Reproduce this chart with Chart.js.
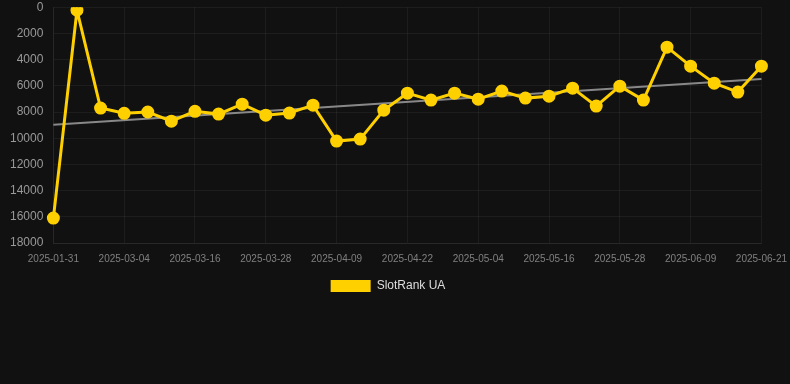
<!DOCTYPE html>
<html>
<head>
<meta charset="utf-8">
<script src="https://cdn.jsdelivr.net/npm/chart.js@4"></script>
<style>
  html, body { margin: 0; padding: 0; background: #111111; }
  #wrap { width: 790px; height: 302px; position: relative; }
</style>
</head>
<body>
<div id="wrap"><canvas id="rankChart"></canvas></div>
<script>
'use strict';
// dates (only every 3rd one is shown on the axis)
let dates = ['2025-01-31','2025-02-12','2025-02-24','2025-03-04','2025-03-08','2025-03-12',
  '2025-03-16','2025-03-20','2025-03-24','2025-03-28','2025-04-01','2025-04-05',
  '2025-04-09','2025-04-13','2025-04-18','2025-04-22','2025-04-26','2025-04-30',
  '2025-05-04','2025-05-08','2025-05-12','2025-05-16','2025-05-20','2025-05-24',
  '2025-05-28','2025-06-01','2025-06-05','2025-06-09','2025-06-13','2025-06-17','2025-06-21'];
let rankValues = [16100, 230, 7700, 8100, 8000, 8700, 7950, 8160, 7400, 8240, 8080, 7480,
  10220, 10070, 7860, 6560, 7090, 6560, 7020, 6400, 6940, 6790, 6180, 7550,
  6030, 7090, 3050, 4500, 5800, 6480, 4500];
// trend line, only the two end points
let trendStart = 8980;
let trendEnd = 5490;
let yTicks = [0, 2000, 4000, 6000, 8000, 10000, 12000, 14000, 16000, 18000];

let trendData = dates.map(function (d, i) {
  if (i === 0) return trendStart;
  if (i === dates.length - 1) return trendEnd;
  return null;
});

let gridColor = 'rgba(255,255,255,0.05)';
Chart.defaults.font.family = '"Liberation Sans", Arial, Helvetica, sans-serif';

// nudge the legend item a bit to the left, like the original
let legendShift = {
  id: 'legendShift',
  afterLayout: function (ch) {
    if (ch.legend && ch.legend.lineWidths) ch.legend.lineWidths[0] += 24;
  }
};

let context = document.getElementById('rankChart').getContext('2d');
let chart = new Chart(context, {
  type: 'line',
  data: {
    labels: dates,
    datasets: [{
      label: 'SlotRank UA',
      data: rankValues,
      borderColor: '#ffd000',
      backgroundColor: '#ffd000',
      borderWidth: 3,
      pointRadius: 5,
      pointHoverRadius: 6,
      tension: 0
    }, {
      label: 'trend',
      data: trendData,
      spanGaps: true,
      borderColor: 'rgba(150,150,150,0.9)',
      borderWidth: 2,
      pointRadius: 0,
      tension: 0
    }]
  },
  options: {
    responsive: true,
    maintainAspectRatio: false,
    animation: false,
    layout: { autoPadding: false, padding: { left: 10 } },
    scales: {
      x: {
        grid: {
          color: function (c) { return c.index % 3 === 0 ? gridColor : 'transparent'; },
          tickColor: 'transparent',
          tickLength: 7
        },
        border: { color: gridColor },
        ticks: {
          autoSkip: false,
          maxRotation: 0,
          color: '#808080',
          font: { size: 10 },
          padding: 3,
          callback: function (val, i) { return i % 3 === 0 ? this.getLabelForValue(val) : ''; }
        }
      },
      y: {
        reverse: true,
        min: 0,
        max: 18000,
        afterBuildTicks: function (axis) { axis.ticks = yTicks.map(function (v) { return { value: v }; }); },
        grid: { color: gridColor, tickColor: 'transparent', tickLength: 10 },
        border: { color: gridColor },
        ticks: {
          color: '#999999',
          font: { size: 12 },
          padding: 0,
          callback: function (v) { return String(v); }
        }
      }
    },
    plugins: {
      legend: {
        position: 'bottom',
        labels: {
          color: '#dddddd',
          font: { size: 12 },
          boxWidth: 40,
          boxHeight: 12,
          padding: 12,
          filter: function (item) { return item.datasetIndex === 0; },
          generateLabels: function (ch) {
            let items = Chart.defaults.plugins.legend.labels.generateLabels(ch);
            items.forEach(function (it) { it.lineWidth = 0; });
            return items;
          }
        }
      },
      tooltip: { enabled: false }
    }
  },
  plugins: [legendShift]
});
</script>
</body>
</html>
